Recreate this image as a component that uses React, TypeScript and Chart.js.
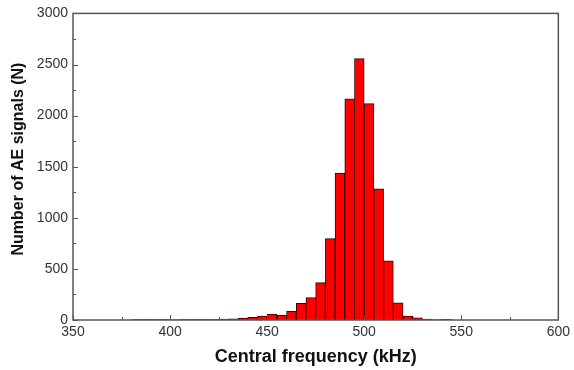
import React, { useEffect, useRef } from "react";
import { Chart, registerables } from "chart.js";

Chart.register(...registerables);

// Histogram bin centres (kHz), bin width 5 kHz
const binCenters: number[] = [
  382.5, 387.5, 392.5, 397.5, 402.5, 407.5, 412.5, 417.5, 422.5, 427.5,
  432.5, 437.5, 442.5, 447.5, 452.5, 457.5, 462.5, 467.5, 472.5, 477.5,
  482.5, 487.5, 492.5, 497.5, 502.5, 507.5, 512.5, 517.5, 522.5, 527.5,
  532.5, 537.5, 542.5,
];
// Number of AE signals in each bin
const counts: number[] = [
  3, 3, 3, 3, 1, 3, 3, 4, 5, 8,
  12, 18, 25, 39, 58, 45, 85, 163, 219, 365,
  796, 1438, 2165, 2558, 2117, 1283, 578, 169, 39, 21,
  9, 2, 7,
];
const xTicks: number[] = [350, 400, 450, 500, 550, 600];
const xMinorTicks: number[] = [375, 425, 475, 525, 575];
const yTicks: number[] = [0, 500, 1000, 1500, 2000, 2500, 3000];
const yMinorTicks: number[] = [250, 750, 1250, 1750, 2250, 2750];

const xTitle = "Central frequency (kHz)";
const yTitle = "Number of AE signals (N)";

const framePlugin = {
  id: "frameAndTitles",
  afterDraw(chart: any) {
    const { ctx, chartArea } = chart;
    const { left, right, top, bottom } = chartArea;
    const xs = chart.scales.x;
    const ys = chart.scales.y;
    ctx.save();
    ctx.strokeStyle = "#555";
    ctx.lineWidth = 1.5;
    ctx.strokeRect(left, top, right - left, bottom - top);
    ctx.lineWidth = 1;
    ctx.beginPath();
    xTicks.forEach((v) => {
      const p = Math.round(xs.getPixelForValue(v)) + 0.5;
      ctx.moveTo(p, bottom);
      ctx.lineTo(p, bottom - 5);
    });
    xMinorTicks.forEach((v) => {
      const p = Math.round(xs.getPixelForValue(v)) + 0.5;
      ctx.moveTo(p, bottom);
      ctx.lineTo(p, bottom - 3);
    });
    yTicks.forEach((v) => {
      const p = Math.round(ys.getPixelForValue(v)) + 0.5;
      ctx.moveTo(left, p);
      ctx.lineTo(left + 5, p);
    });
    yMinorTicks.forEach((v) => {
      const p = Math.round(ys.getPixelForValue(v)) + 0.5;
      ctx.moveTo(left, p);
      ctx.lineTo(left + 3, p);
    });
    ctx.stroke();

    ctx.fillStyle = "#111";
    ctx.textAlign = "center";
    ctx.textBaseline = "middle";
    ctx.font = "bold 18px 'Liberation Sans', Arial, sans-serif";
    ctx.fillText(xTitle, (left + right) / 2, 357);
    ctx.translate(19, 159);
    ctx.rotate(-Math.PI / 2);
    ctx.font = "bold 16px 'Liberation Sans', Arial, sans-serif";
    ctx.fillText(yTitle, 0, 0);
    ctx.restore();
  },
};

export default function App() {
  const canvasRef = useRef<HTMLCanvasElement | null>(null);

  useEffect(() => {
    document.body.style.margin = "0";
    const canvas = canvasRef.current;
    if (!canvas) return;
    const chart = new Chart(canvas, {
      type: "bar",
      data: {
        datasets: [
          {
            data: binCenters.map((x, i) => ({ x, y: counts[i] })),
            backgroundColor: "#ff0000",
            borderColor: "#3a0000",
            borderWidth: 1,
            barPercentage: 1,
            categoryPercentage: 1,
          },
        ],
      },
      options: {
        animation: false,
        responsive: false,
        maintainAspectRatio: false,
        layout: { padding: { top: 12, right: 12, left: 0, bottom: 0 } },
        plugins: {
          legend: { display: false },
          tooltip: { enabled: false },
        },
        scales: {
          x: {
            type: "linear",
            min: 350,
            max: 600,
            offset: false,
            grid: { display: false, drawTicks: false },
            border: { display: false },
            afterBuildTicks: (scale: any) => {
              scale.ticks = xTicks.map((v) => ({ value: v }));
            },
            afterFit: (scale: any) => {
              scale.height = 50;
            },
            ticks: {
              padding: 4,
              maxRotation: 0,
              autoSkip: false,
              color: "#333",
              callback: (v: any) => String(v),
              font: { family: "'Liberation Sans', Arial, sans-serif", size: 14 },
            },
          },
          y: {
            min: 0,
            max: 3000,
            grid: { display: false, drawTicks: false },
            border: { display: false },
            afterBuildTicks: (scale: any) => {
              scale.ticks = yTicks.map((v) => ({ value: v }));
            },
            afterFit: (scale: any) => {
              scale.width = 73;
            },
            ticks: {
              padding: 5,
              color: "#333",
              callback: (v: any) => String(v),
              font: { family: "'Liberation Sans', Arial, sans-serif", size: 14 },
            },
          },
        },
      },
      plugins: [framePlugin],
    });
    return () => chart.destroy();
  }, []);

  return (
    <div style={{ position: "fixed", left: 0, top: 0, width: 574, height: 370, background: "#fff" }}>
      <canvas ref={canvasRef} width={574} height={370} style={{ width: 574, height: 370 }} />
    </div>
  );
}
